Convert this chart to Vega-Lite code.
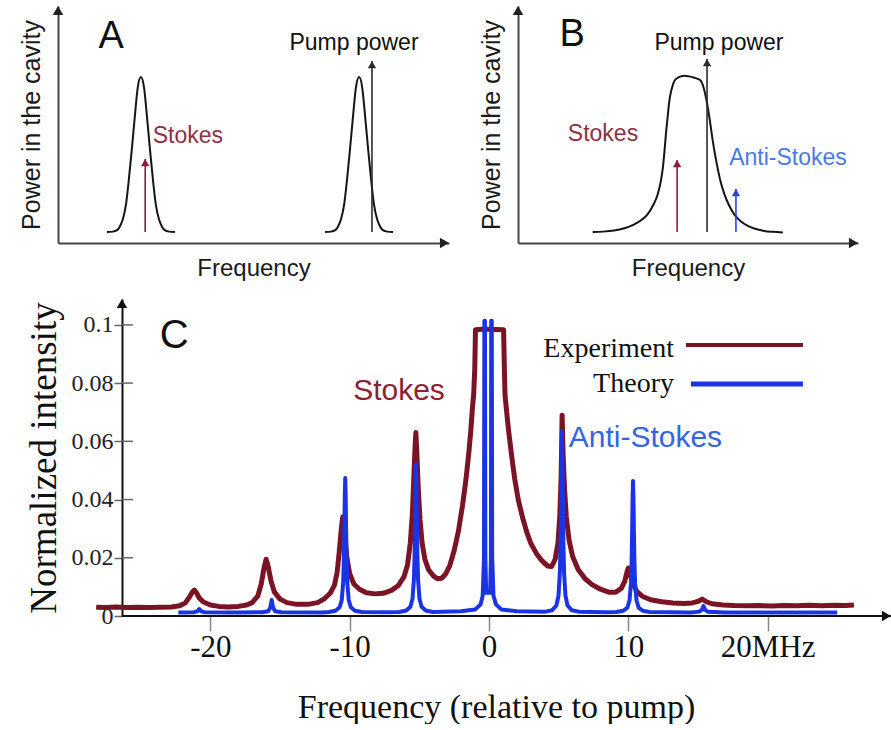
{
  "$schema": "https://vega.github.io/schema/vega-lite/v6.json",
  "padding": {"left": 19, "top": 5, "right": 0, "bottom": 0},
  "autosize": {"type": "pad"},
  "background": "white",
  "config": {"view": {"stroke": null}, "axis": {"grid": false}, "font": "Liberation Sans"},
  "datasets": {
    "curveA": [
      {"f": 12.5, "p": 0.046, "peak": "Stokes"}, {"f": 14.0, "p": 0.048, "peak": "Stokes"}, {"f": 15.1, "p": 0.054, "peak": "Stokes"},
      {"f": 15.8, "p": 0.069, "peak": "Stokes"}, {"f": 16.6, "p": 0.101, "peak": "Stokes"}, {"f": 17.4, "p": 0.164, "peak": "Stokes"},
      {"f": 18.1, "p": 0.264, "peak": "Stokes"}, {"f": 18.9, "p": 0.399, "peak": "Stokes"}, {"f": 19.7, "p": 0.543, "peak": "Stokes"},
      {"f": 20.4, "p": 0.657, "peak": "Stokes"}, {"f": 21.2, "p": 0.700, "peak": "Stokes"}, {"f": 22.0, "p": 0.657, "peak": "Stokes"},
      {"f": 22.7, "p": 0.543, "peak": "Stokes"}, {"f": 23.5, "p": 0.399, "peak": "Stokes"}, {"f": 24.3, "p": 0.264, "peak": "Stokes"},
      {"f": 25.0, "p": 0.164, "peak": "Stokes"}, {"f": 25.8, "p": 0.101, "peak": "Stokes"}, {"f": 26.6, "p": 0.069, "peak": "Stokes"},
      {"f": 27.3, "p": 0.054, "peak": "Stokes"}, {"f": 28.4, "p": 0.048, "peak": "Stokes"}, {"f": 29.9, "p": 0.046, "peak": "Stokes"},
      {"f": 68.3, "p": 0.046, "peak": "Pump"}, {"f": 69.8, "p": 0.048, "peak": "Pump"}, {"f": 70.9, "p": 0.054, "peak": "Pump"},
      {"f": 71.6, "p": 0.069, "peak": "Pump"}, {"f": 72.4, "p": 0.101, "peak": "Pump"}, {"f": 73.2, "p": 0.164, "peak": "Pump"},
      {"f": 73.9, "p": 0.264, "peak": "Pump"}, {"f": 74.7, "p": 0.399, "peak": "Pump"}, {"f": 75.5, "p": 0.543, "peak": "Pump"},
      {"f": 76.2, "p": 0.657, "peak": "Pump"}, {"f": 77.0, "p": 0.700, "peak": "Pump"}, {"f": 77.8, "p": 0.657, "peak": "Pump"},
      {"f": 78.5, "p": 0.543, "peak": "Pump"}, {"f": 79.3, "p": 0.399, "peak": "Pump"}, {"f": 80.1, "p": 0.264, "peak": "Pump"},
      {"f": 80.8, "p": 0.164, "peak": "Pump"}, {"f": 81.6, "p": 0.101, "peak": "Pump"}, {"f": 82.4, "p": 0.069, "peak": "Pump"},
      {"f": 83.1, "p": 0.054, "peak": "Pump"}, {"f": 84.2, "p": 0.048, "peak": "Pump"}, {"f": 85.7, "p": 0.046, "peak": "Pump"}
    ],
    "arrowsA": [
      {"f": 22.3, "base": 0.046, "tip": 0.354, "wave": "Stokes"},
      {"f": 80.3, "base": 0.046, "tip": 0.768, "wave": "Pump"}
    ],
    "curveB": [
      {"f": 21.97, "p": 0.046}, {"f": 25.0, "p": 0.048}, {"f": 28.3, "p": 0.053}, {"f": 31.5, "p": 0.063},
      {"f": 34.2, "p": 0.079}, {"f": 36.3, "p": 0.097}, {"f": 38.1, "p": 0.121}, {"f": 39.7, "p": 0.158},
      {"f": 41.1, "p": 0.206}, {"f": 42.0, "p": 0.260}, {"f": 42.6, "p": 0.317}, {"f": 43.1, "p": 0.390},
      {"f": 43.5, "p": 0.459}, {"f": 44.0, "p": 0.530}, {"f": 44.5, "p": 0.599}, {"f": 45.2, "p": 0.650},
      {"f": 46.0, "p": 0.684}, {"f": 46.9, "p": 0.696}, {"f": 47.9, "p": 0.703}, {"f": 49.0, "p": 0.706},
      {"f": 50.3, "p": 0.703}, {"f": 51.9, "p": 0.697}, {"f": 53.0, "p": 0.692}, {"f": 53.8, "p": 0.684},
      {"f": 54.6, "p": 0.655}, {"f": 55.3, "p": 0.613}, {"f": 56.3, "p": 0.529}, {"f": 57.3, "p": 0.430},
      {"f": 58.0, "p": 0.370}, {"f": 58.7, "p": 0.317}, {"f": 59.6, "p": 0.258}, {"f": 60.7, "p": 0.206},
      {"f": 62.1, "p": 0.158}, {"f": 63.6, "p": 0.121}, {"f": 65.5, "p": 0.092}, {"f": 67.6, "p": 0.072},
      {"f": 70.0, "p": 0.059}, {"f": 72.4, "p": 0.051}, {"f": 75.0, "p": 0.047}, {"f": 77.9, "p": 0.044}
    ],
    "arrowsB": [
      {"f": 46.8, "base": 0.046, "tip": 0.350, "wave": "Stokes"},
      {"f": 55.6, "base": 0.046, "tip": 0.776, "wave": "Pump"},
      {"f": 64.1, "base": 0.046, "tip": 0.228, "wave": "Anti-Stokes"}
    ],
    "experiment": [
      {"f": -28.2, "v": 0.0030}, {"f": -27.5, "v": 0.0029}, {"f": -26.8, "v": 0.0031}, {"f": -26.0, "v": 0.0029},
      {"f": -25.2, "v": 0.0030}, {"f": -24.4, "v": 0.0029}, {"f": -23.6, "v": 0.0030}, {"f": -22.8, "v": 0.0031},
      {"f": -22.2, "v": 0.0035}, {"f": -21.8, "v": 0.0045}, {"f": -21.5, "v": 0.0065}, {"f": -21.3, "v": 0.0082},
      {"f": -21.15, "v": 0.0089}, {"f": -21.0, "v": 0.0080}, {"f": -20.8, "v": 0.0062}, {"f": -20.5, "v": 0.0048},
      {"f": -20.0, "v": 0.0038}, {"f": -19.4, "v": 0.0033}, {"f": -18.7, "v": 0.0031}, {"f": -18.0, "v": 0.0033},
      {"f": -17.4, "v": 0.0038}, {"f": -17.0, "v": 0.0046}, {"f": -16.6, "v": 0.0068}, {"f": -16.35, "v": 0.0110},
      {"f": -16.15, "v": 0.0165}, {"f": -16.0, "v": 0.0195}, {"f": -15.85, "v": 0.0170}, {"f": -15.65, "v": 0.0120},
      {"f": -15.4, "v": 0.0082}, {"f": -15.0, "v": 0.0058}, {"f": -14.5, "v": 0.0046}, {"f": -13.8, "v": 0.0040},
      {"f": -13.0, "v": 0.0040}, {"f": -12.3, "v": 0.0046}, {"f": -11.8, "v": 0.0060}, {"f": -11.4, "v": 0.0078},
      {"f": -11.1, "v": 0.0105}, {"f": -10.9, "v": 0.0150}, {"f": -10.75, "v": 0.0220}, {"f": -10.6, "v": 0.0300},
      {"f": -10.5, "v": 0.0340}, {"f": -10.38, "v": 0.0290}, {"f": -10.2, "v": 0.0200}, {"f": -10.0, "v": 0.0145},
      {"f": -9.7, "v": 0.0110}, {"f": -9.3, "v": 0.0092}, {"f": -8.8, "v": 0.0080}, {"f": -8.2, "v": 0.0076},
      {"f": -7.6, "v": 0.0078}, {"f": -7.0, "v": 0.0088}, {"f": -6.5, "v": 0.0105}, {"f": -6.1, "v": 0.0135},
      {"f": -5.85, "v": 0.0175}, {"f": -5.65, "v": 0.0250}, {"f": -5.5, "v": 0.0350}, {"f": -5.4, "v": 0.0470},
      {"f": -5.3, "v": 0.0590}, {"f": -5.25, "v": 0.0630}, {"f": -5.18, "v": 0.0560}, {"f": -5.08, "v": 0.0440},
      {"f": -4.95, "v": 0.0330}, {"f": -4.8, "v": 0.0250}, {"f": -4.6, "v": 0.0195}, {"f": -4.35, "v": 0.0160},
      {"f": -4.0, "v": 0.0138}, {"f": -3.7, "v": 0.0128}, {"f": -3.4, "v": 0.0130}, {"f": -3.1, "v": 0.0145},
      {"f": -2.8, "v": 0.0175}, {"f": -2.5, "v": 0.0225}, {"f": -2.2, "v": 0.0290}, {"f": -1.9, "v": 0.0380},
      {"f": -1.65, "v": 0.0470}, {"f": -1.45, "v": 0.0560}, {"f": -1.3, "v": 0.0640}, {"f": -1.18, "v": 0.0720},
      {"f": -1.1, "v": 0.0760}, {"f": -1.02, "v": 0.0850}, {"f": -0.97, "v": 0.0983}, {"f": -0.5, "v": 0.0985},
      {"f": 0.0, "v": 0.0985}, {"f": 0.5, "v": 0.0984}, {"f": 1.05, "v": 0.0983}, {"f": 1.1, "v": 0.0860},
      {"f": 1.15, "v": 0.0760}, {"f": 1.25, "v": 0.0710}, {"f": 1.4, "v": 0.0640}, {"f": 1.6, "v": 0.0560},
      {"f": 1.85, "v": 0.0470}, {"f": 2.1, "v": 0.0400}, {"f": 2.4, "v": 0.0340}, {"f": 2.7, "v": 0.0290},
      {"f": 3.0, "v": 0.0250}, {"f": 3.4, "v": 0.0215}, {"f": 3.8, "v": 0.0190}, {"f": 4.2, "v": 0.0172},
      {"f": 4.5, "v": 0.0170}, {"f": 4.75, "v": 0.0195}, {"f": 4.95, "v": 0.0250}, {"f": 5.08, "v": 0.0340},
      {"f": 5.18, "v": 0.0480}, {"f": 5.25, "v": 0.0690}, {"f": 5.32, "v": 0.0560}, {"f": 5.42, "v": 0.0440},
      {"f": 5.55, "v": 0.0340}, {"f": 5.75, "v": 0.0260}, {"f": 6.0, "v": 0.0205}, {"f": 6.4, "v": 0.0160},
      {"f": 6.9, "v": 0.0128}, {"f": 7.4, "v": 0.0108}, {"f": 8.0, "v": 0.0092}, {"f": 8.6, "v": 0.0082},
      {"f": 9.1, "v": 0.0082}, {"f": 9.5, "v": 0.0095}, {"f": 9.75, "v": 0.0120}, {"f": 9.9, "v": 0.0150},
      {"f": 10.0, "v": 0.0165}, {"f": 10.1, "v": 0.0150}, {"f": 10.3, "v": 0.0115}, {"f": 10.6, "v": 0.0085},
      {"f": 11.0, "v": 0.0068}, {"f": 11.6, "v": 0.0056}, {"f": 12.4, "v": 0.0049}, {"f": 13.2, "v": 0.0045},
      {"f": 14.0, "v": 0.0043}, {"f": 14.6, "v": 0.0045}, {"f": 15.0, "v": 0.0050}, {"f": 15.3, "v": 0.0058},
      {"f": 15.6, "v": 0.0049}, {"f": 16.0, "v": 0.0042}, {"f": 16.8, "v": 0.0038}, {"f": 17.6, "v": 0.0036},
      {"f": 18.5, "v": 0.0035}, {"f": 19.4, "v": 0.0036}, {"f": 20.3, "v": 0.0034}, {"f": 21.2, "v": 0.0036},
      {"f": 22.1, "v": 0.0035}, {"f": 23.0, "v": 0.0037}, {"f": 23.9, "v": 0.0035}, {"f": 24.8, "v": 0.0037},
      {"f": 25.6, "v": 0.0036}, {"f": 26.2, "v": 0.0038}
    ],
    "theory": [
      {"f": -22.3, "v": 0.0012}, {"f": -21.2, "v": 0.0013}, {"f": -20.95, "v": 0.0016}, {"f": -20.8, "v": 0.0024},
      {"f": -20.65, "v": 0.0016}, {"f": -20.4, "v": 0.0013}, {"f": -18.0, "v": 0.0012}, {"f": -16.3, "v": 0.0013},
      {"f": -15.85, "v": 0.0016}, {"f": -15.7, "v": 0.0029}, {"f": -15.6, "v": 0.0055}, {"f": -15.5, "v": 0.0029},
      {"f": -15.35, "v": 0.0016}, {"f": -14.9, "v": 0.0013}, {"f": -12.0, "v": 0.0012}, {"f": -11.5, "v": 0.0014},
      {"f": -11.02, "v": 0.0018}, {"f": -10.72, "v": 0.0030}, {"f": -10.57, "v": 0.0055}, {"f": -10.47, "v": 0.0114},
      {"f": -10.42, "v": 0.0192}, {"f": -10.38, "v": 0.0308}, {"f": -10.35, "v": 0.0417}, {"f": -10.32, "v": 0.0474},
      {"f": -10.29, "v": 0.0417}, {"f": -10.26, "v": 0.0308}, {"f": -10.22, "v": 0.0192}, {"f": -10.17, "v": 0.0114},
      {"f": -10.07, "v": 0.0055}, {"f": -9.92, "v": 0.0030}, {"f": -9.62, "v": 0.0018}, {"f": -9.12, "v": 0.0014},
      {"f": -7.5, "v": 0.0013}, {"f": -6.44, "v": 0.0014}, {"f": -5.94, "v": 0.0019}, {"f": -5.64, "v": 0.0032},
      {"f": -5.49, "v": 0.0059}, {"f": -5.39, "v": 0.0125}, {"f": -5.34, "v": 0.0211}, {"f": -5.30, "v": 0.0338},
      {"f": -5.27, "v": 0.0459}, {"f": -5.24, "v": 0.0522}, {"f": -5.21, "v": 0.0459}, {"f": -5.18, "v": 0.0338},
      {"f": -5.14, "v": 0.0211}, {"f": -5.09, "v": 0.0125}, {"f": -4.99, "v": 0.0059}, {"f": -4.84, "v": 0.0032},
      {"f": -4.54, "v": 0.0019}, {"f": -4.04, "v": 0.0014}, {"f": -2.0, "v": 0.0016}, {"f": -1.0, "v": 0.0022},
      {"f": -0.6, "v": 0.0040}, {"f": -0.45, "v": 0.0070}, {"f": -0.36, "v": 0.0200}, {"f": -0.33, "v": 0.1014},
      {"f": -0.29, "v": 0.1014}, {"f": -0.26, "v": 0.0200}, {"f": -0.2, "v": 0.0080}, {"f": 0.08, "v": 0.0080},
      {"f": 0.14, "v": 0.0200}, {"f": 0.16, "v": 0.1014}, {"f": 0.20, "v": 0.1014}, {"f": 0.23, "v": 0.0200},
      {"f": 0.32, "v": 0.0070}, {"f": 0.5, "v": 0.0040}, {"f": 0.9, "v": 0.0022}, {"f": 2.0, "v": 0.0016},
      {"f": 4.04, "v": 0.0015}, {"f": 4.54, "v": 0.0020}, {"f": 4.84, "v": 0.0036}, {"f": 4.99, "v": 0.0070},
      {"f": 5.09, "v": 0.0150}, {"f": 5.14, "v": 0.0255}, {"f": 5.18, "v": 0.0411}, {"f": 5.21, "v": 0.0559},
      {"f": 5.24, "v": 0.0636}, {"f": 5.27, "v": 0.0559}, {"f": 5.30, "v": 0.0411}, {"f": 5.34, "v": 0.0255},
      {"f": 5.39, "v": 0.0150}, {"f": 5.49, "v": 0.0070}, {"f": 5.64, "v": 0.0036}, {"f": 5.94, "v": 0.0020},
      {"f": 6.44, "v": 0.0015}, {"f": 8.5, "v": 0.0013}, {"f": 9.14, "v": 0.0014}, {"f": 9.64, "v": 0.0018},
      {"f": 9.94, "v": 0.0029}, {"f": 10.09, "v": 0.0054}, {"f": 10.19, "v": 0.0112}, {"f": 10.24, "v": 0.0188},
      {"f": 10.28, "v": 0.0301}, {"f": 10.31, "v": 0.0408}, {"f": 10.34, "v": 0.0464}, {"f": 10.37, "v": 0.0408},
      {"f": 10.40, "v": 0.0301}, {"f": 10.44, "v": 0.0188}, {"f": 10.49, "v": 0.0112}, {"f": 10.59, "v": 0.0054},
      {"f": 10.74, "v": 0.0029}, {"f": 11.04, "v": 0.0018}, {"f": 11.54, "v": 0.0014}, {"f": 14.5, "v": 0.0012},
      {"f": 15.1, "v": 0.0015}, {"f": 15.3, "v": 0.0022}, {"f": 15.4, "v": 0.0034}, {"f": 15.5, "v": 0.0022},
      {"f": 15.7, "v": 0.0015}, {"f": 17.0, "v": 0.0012}, {"f": 25.0, "v": 0.0012}
    ],
    "majorTicks": [{"v": 0.02}, {"v": 0.04}, {"v": 0.06}, {"v": 0.08}, {"v": 0.1}]
  },
  "bounds": "flush",
  "spacing": 293,
  "vconcat": [
    {
      "bounds": "flush",
      "spacing": 69,
      "hconcat": [
        {
          "width": 391,
          "height": 237,
          "layer": [
            {
              "data": {"name": "curveA"},
              "mark": {"type": "line", "color": "#151515", "strokeWidth": 2, "interpolate": "monotone"},
              "encoding": {
                "x": {"field": "f", "type": "quantitative", "scale": {"domain": [0, 100], "nice": false, "zero": false},
                  "axis": {"title": "Frequency", "labels": false, "ticks": false, "domainColor": "#444", "domainWidth": 2,
                    "titleFont": "Liberation Sans", "titleFontSize": 24, "titleFontWeight": "normal", "titleColor": "#1a1a1a", "titlePadding": 13}},
                "y": {"field": "p", "type": "quantitative", "scale": {"domain": [0, 1], "nice": false},
                  "axis": {"title": "Power in the cavity", "labels": false, "ticks": false, "domainColor": "#444", "domainWidth": 2,
                    "titleFont": "Liberation Sans", "titleFontSize": 25, "titleFontWeight": "normal", "titleColor": "#1a1a1a", "titlePadding": 14}},
                "detail": {"field": "peak"}
              }
            },
            {
              "data": {"name": "arrowsA"},
              "mark": {"type": "rule", "strokeWidth": 1.6},
              "encoding": {
                "x": {"field": "f", "type": "quantitative"},
                "y": {"field": "base", "type": "quantitative"},
                "y2": {"field": "tip"},
                "color": {"field": "wave", "type": "nominal", "scale": {"domain": ["Stokes", "Pump", "Anti-Stokes"], "range": ["#8e1d3d", "#2b2b2b", "#2a44d8"]}, "legend": null}
              }
            },
            {
              "data": {"name": "arrowsA"},
              "mark": {"type": "point", "shape": "triangle-up", "filled": true, "opacity": 1, "size": 70, "yOffset": 3.6},
              "encoding": {
                "x": {"field": "f", "type": "quantitative"},
                "y": {"field": "tip", "type": "quantitative"},
                "color": {"field": "wave", "type": "nominal", "scale": {"domain": ["Stokes", "Pump", "Anti-Stokes"], "range": ["#8e1d3d", "#2b2b2b", "#2a44d8"]}, "legend": null}
              }
            },
            {
              "data": {"values": [{}]},
              "mark": {"type": "point", "shape": "triangle-up", "filled": true, "opacity": 1, "size": 110, "yOffset": 4.5, "color": "#222"},
              "encoding": {"x": {"datum": 0}, "y": {"datum": 1}}
            },
            {
              "data": {"values": [{}]},
              "mark": {"type": "point", "shape": "triangle-right", "filled": true, "opacity": 1, "size": 110, "xOffset": -4.5, "color": "#222"},
              "encoding": {"x": {"datum": 100}, "y": {"datum": 0}}
            },
            {
              "data": {"values": [{}]},
              "mark": {"type": "text", "font": "Liberation Sans", "fontSize": 38, "color": "#111"},
              "encoding": {"x": {"datum": 13.6}, "y": {"datum": 0.869}, "text": {"value": "A"}}
            },
            {
              "data": {"values": [{}]},
              "mark": {"type": "text", "font": "Liberation Sans", "fontSize": 23, "color": "#111"},
              "encoding": {"x": {"datum": 75.7}, "y": {"datum": 0.844}, "text": {"value": "Pump power"}}
            },
            {
              "data": {"values": [{}]},
              "mark": {"type": "text", "font": "Liberation Sans", "fontSize": 23, "color": "#8c3048"},
              "encoding": {"x": {"datum": 33.2}, "y": {"datum": 0.451}, "text": {"value": "Stokes"}}
            }
          ]
        },
        {
          "width": 340,
          "height": 237,
          "layer": [
            {
              "data": {"name": "curveB"},
              "mark": {"type": "line", "color": "#151515", "strokeWidth": 2, "interpolate": "monotone"},
              "encoding": {
                "x": {"field": "f", "type": "quantitative", "scale": {"domain": [0, 100], "nice": false, "zero": false},
                  "axis": {"title": "Frequency", "labels": false, "ticks": false, "domainColor": "#444", "domainWidth": 2,
                    "titleFont": "Liberation Sans", "titleFontSize": 24, "titleFontWeight": "normal", "titleColor": "#1a1a1a", "titlePadding": 13}},
                "y": {"field": "p", "type": "quantitative", "scale": {"domain": [0, 1], "nice": false},
                  "axis": {"title": "Power in the cavity", "labels": false, "ticks": false, "domainColor": "#444", "domainWidth": 2,
                    "titleFont": "Liberation Sans", "titleFontSize": 25, "titleFontWeight": "normal", "titleColor": "#1a1a1a", "titlePadding": 14}}
              }
            },
            {
              "data": {"name": "arrowsB"},
              "mark": {"type": "rule", "strokeWidth": 1.6},
              "encoding": {
                "x": {"field": "f", "type": "quantitative"},
                "y": {"field": "base", "type": "quantitative"},
                "y2": {"field": "tip"},
                "color": {"field": "wave", "type": "nominal", "scale": {"domain": ["Stokes", "Pump", "Anti-Stokes"], "range": ["#8e1d3d", "#2b2b2b", "#2a44d8"]}, "legend": null}
              }
            },
            {
              "data": {"name": "arrowsB"},
              "mark": {"type": "point", "shape": "triangle-up", "filled": true, "opacity": 1, "size": 70, "yOffset": 3.6},
              "encoding": {
                "x": {"field": "f", "type": "quantitative"},
                "y": {"field": "tip", "type": "quantitative"},
                "color": {"field": "wave", "type": "nominal", "scale": {"domain": ["Stokes", "Pump", "Anti-Stokes"], "range": ["#8e1d3d", "#2b2b2b", "#2a44d8"]}, "legend": null}
              }
            },
            {
              "data": {"values": [{}]},
              "mark": {"type": "point", "shape": "triangle-up", "filled": true, "opacity": 1, "size": 110, "yOffset": 4.5, "color": "#222"},
              "encoding": {"x": {"datum": 0}, "y": {"datum": 1}}
            },
            {
              "data": {"values": [{}]},
              "mark": {"type": "point", "shape": "triangle-right", "filled": true, "opacity": 1, "size": 110, "xOffset": -4.5, "color": "#222"},
              "encoding": {"x": {"datum": 100}, "y": {"datum": 0}}
            },
            {
              "data": {"values": [{}]},
              "mark": {"type": "text", "font": "Liberation Sans", "fontSize": 38, "color": "#111"},
              "encoding": {"x": {"datum": 15.9}, "y": {"datum": 0.878}, "text": {"value": "B"}}
            },
            {
              "data": {"values": [{}]},
              "mark": {"type": "text", "font": "Liberation Sans", "fontSize": 23, "color": "#111"},
              "encoding": {"x": {"datum": 59.1}, "y": {"datum": 0.844}, "text": {"value": "Pump power"}}
            },
            {
              "data": {"values": [{}]},
              "mark": {"type": "text", "font": "Liberation Sans", "fontSize": 23, "color": "#8c3048"},
              "encoding": {"x": {"datum": 25.0}, "y": {"datum": 0.46}, "text": {"value": "Stokes"}}
            },
            {
              "data": {"values": [{}]},
              "mark": {"type": "text", "font": "Liberation Sans", "fontSize": 23, "color": "#4a78e6"},
              "encoding": {"x": {"datum": 79.4}, "y": {"datum": 0.359}, "text": {"value": "Anti-Stokes"}}
            }
          ]
        }
      ]
    },
    {
      "width": 833,
      "height": 317,
      "layer": [
        {
          "data": {"name": "experiment"},
          "mark": {"type": "line", "color": "#7a1424", "strokeWidth": 5, "strokeJoin": "round"},
          "encoding": {
            "x": {"field": "f", "type": "quantitative", "scale": {"domain": [-30.94, 28.86], "nice": false, "zero": false},
              "axis": {"values": [-20, -10, 0, 10, 20], "labelExpr": "datum.value == 20 ? '20MHz' : '' + datum.value",
                "domain": false, "tickSize": 15, "tickColor": "#888", "tickWidth": 1.5, "labelFont": "Liberation Serif", "labelFontSize": 31,
                "labelColor": "#111", "labelPadding": 1, "title": "Frequency (relative to pump)", "titleFont": "Liberation Serif",
                "titleFontSize": 34, "titleFontWeight": "normal", "titleColor": "#111", "titlePadding": 28, "titleX": 438}},
            "y": {"field": "v", "type": "quantitative", "scale": {"domain": [0, 0.1089], "nice": false},
              "axis": {"offset": -64, "values": [0, 0.01, 0.02, 0.03, 0.04, 0.05, 0.06, 0.07, 0.08, 0.09, 0.1],
                "labelExpr": "round(datum.value * 100) % 2 == 0 ? '' + round(datum.value * 100) / 100 : ''",
                "domainColor": "#111", "domainWidth": 2, "tickSize": 8, "tickColor": "#666", "tickWidth": 1.5,
                "labelFont": "Liberation Serif", "labelFontSize": 24, "labelColor": "#222", "labelPadding": 1,
                "title": "Normalized intensity", "titleFont": "Liberation Serif", "titleFontSize": 37, "titleFontWeight": "normal",
                "titleColor": "#111", "titlePadding": 8}}
          }
        },
        {
          "data": {"name": "theory"},
          "mark": {"type": "line", "color": "#1b34e3", "strokeWidth": 4, "strokeJoin": "round"},
          "encoding": {
            "x": {"field": "f", "type": "quantitative"},
            "y": {"field": "v", "type": "quantitative"}
          }
        },
        {
          "data": {"name": "majorTicks"},
          "mark": {"type": "rule", "color": "#666", "strokeWidth": 1.5},
          "encoding": {"x": {"datum": -26.35}, "x2": {"datum": -25.56}, "y": {"field": "v", "type": "quantitative"}}
        },
        {
          "data": {"values": [{}]},
          "mark": {"type": "rule", "color": "#111", "strokeWidth": 2},
          "encoding": {"x": {"datum": -26.35}, "x2": {"datum": 28.86}, "y": {"datum": 0}}
        },
        {
          "data": {"values": [{}]},
          "mark": {"type": "point", "shape": "triangle-up", "filled": true, "opacity": 1, "size": 110, "yOffset": 4.5, "color": "#111"},
          "encoding": {"x": {"datum": -26.35}, "y": {"datum": 0.1089}}
        },
        {
          "data": {"values": [{}]},
          "mark": {"type": "point", "shape": "triangle-right", "filled": true, "opacity": 1, "size": 110, "xOffset": -4.5, "color": "#111"},
          "encoding": {"x": {"datum": 28.86}, "y": {"datum": 0}}
        },
        {
          "data": {"values": [{}]},
          "mark": {"type": "rule", "color": "#7a1424", "strokeWidth": 4},
          "encoding": {"x": {"datum": 14.14}, "x2": {"datum": 22.54}, "y": {"datum": 0.0931}}
        },
        {
          "data": {"values": [{}]},
          "mark": {"type": "rule", "color": "#1b34e3", "strokeWidth": 5},
          "encoding": {"x": {"datum": 14.5}, "x2": {"datum": 22.54}, "y": {"datum": 0.0797}}
        },
        {
          "data": {"values": [{}]},
          "mark": {"type": "text", "font": "Liberation Serif", "fontSize": 28, "color": "#111", "align": "right"},
          "encoding": {"x": {"datum": 13.28}, "y": {"datum": 0.0918}, "text": {"value": "Experiment"}}
        },
        {
          "data": {"values": [{}]},
          "mark": {"type": "text", "font": "Liberation Serif", "fontSize": 28, "color": "#111", "align": "right"},
          "encoding": {"x": {"datum": 13.28}, "y": {"datum": 0.0797}, "text": {"value": "Theory"}}
        },
        {
          "data": {"values": [{}]},
          "mark": {"type": "text", "font": "Liberation Sans", "fontSize": 30, "color": "#8b1f33"},
          "encoding": {"x": {"datum": -6.46}, "y": {"datum": 0.0773}, "text": {"value": "Stokes"}}
        },
        {
          "data": {"values": [{}]},
          "mark": {"type": "text", "font": "Liberation Sans", "fontSize": 30, "color": "#3366e0"},
          "encoding": {"x": {"datum": 11.23}, "y": {"datum": 0.0612}, "text": {"value": "Anti-Stokes"}}
        },
        {
          "data": {"values": [{}]},
          "mark": {"type": "text", "font": "Liberation Sans", "fontSize": 40, "color": "#111"},
          "encoding": {"x": {"datum": -22.6}, "y": {"datum": 0.0962}, "text": {"value": "C"}}
        }
      ]
    }
  ]
}
